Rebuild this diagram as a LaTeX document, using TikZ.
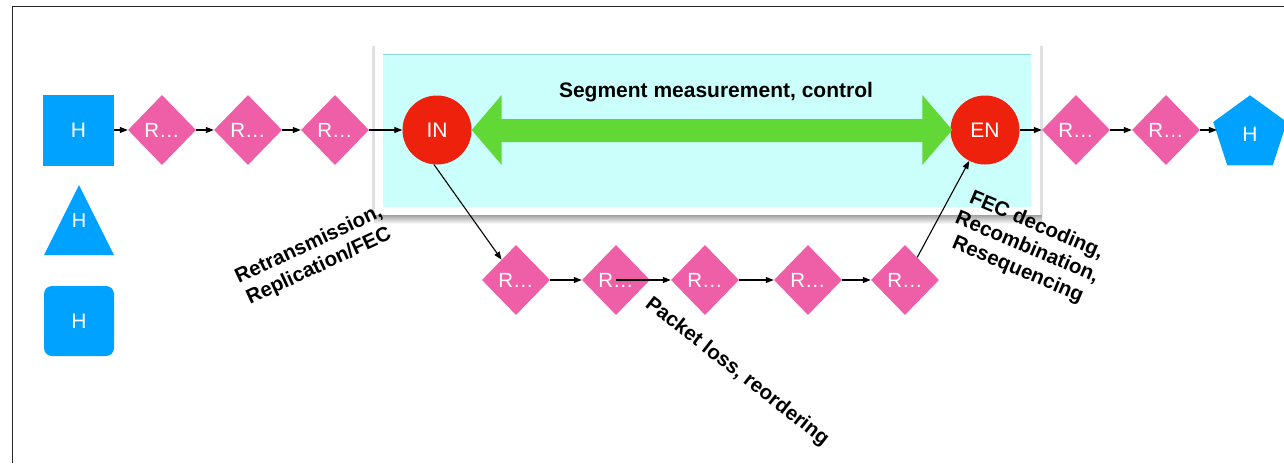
\documentclass[tikz,border=0pt]{standalone}
\usepackage{fontspec}
\setmainfont{Liberation Sans}
\usetikzlibrary{shapes.geometric,calc,arrows.meta}
\definecolor{hblue}{RGB}{0,162,255}
\definecolor{rpink}{RGB}{239,95,167}
\definecolor{nred}{RGB}{238,34,12}
\definecolor{agreen}{RGB}{97,216,54}
\definecolor{segcyan}{RGB}{203,255,252}
\begin{document}
\begin{tikzpicture}[x=1pt,y=-1pt,
  router/.style={diamond, fill=rpink, inner sep=0pt, minimum width=68pt, minimum height=70pt, text=white, font=\fontsize{20.5}{24}\selectfont},
  hostsq/.style={rectangle, fill=hblue, inner sep=0pt, minimum size=71pt, text=white, font=\fontsize{21}{24}\selectfont},
  edgenode/.style={circle, fill=nred, inner sep=0pt, minimum size=69pt, text=white, font=\fontsize{21}{24}\selectfont},
  conn/.style={-{Triangle[length=8pt,width=6pt]}, line width=1.1pt},
  lbl/.style={font=\bfseries\fontsize{20.5}{24}\selectfont, align=center, inner sep=0pt}
]
\useasboundingbox (0,0) rectangle (1284,463);
\fill[white] (0,0) rectangle (1284,463);
\draw[line width=1.5pt, black!85] (12.5,463) -- (12.5,6.5) -- (1284,6.5);
% segment box with shadow
\shade[top color=black!45, bottom color=white] (374,213) rectangle (1042,224);
\fill[black!12] (372,46) rectangle (1043,215);
\fill[white] (375,45) rectangle (1040,215);
\fill[segcyan] (383,54) rectangle (1031,207);
\draw[segcyan!70!teal, line width=0.6pt] (383,54.3) -- (1031,54.3);
% hosts
\node[hostsq] (h1) at (78.5,130) {H};
\fill[hblue] (79,185) -- (114,255) -- (44,255) -- cycle;
\node[text=white, font=\fontsize{20}{24}\selectfont, inner sep=0pt] (h2) at (79,221) {H};
\node[hostsq, rounded corners=8pt, minimum size=70pt] (h3) at (79,321) {H};
\node[regular polygon, regular polygon sides=5, fill=hblue, minimum size=77.4pt, inner sep=0pt, text=white, font=\fontsize{21}{24}\selectfont] (h4) at (1250,134) {H};
% top routers
\node[router] (r1) at (162,130) {R…};
\node[router] (r2) at (248,130) {R…};
\node[router] (r3) at (335,130) {R…};
\node[router] (r4) at (1076,130) {R…};
\node[router] (r5) at (1166,130) {R…};
% edge nodes
\node[edgenode] (in) at (437,130) {IN};
\node[edgenode] (en) at (985,130) {EN};
% bottom routers
\node[router] (b1) at (516,280) {R…};
\node[router] (b2) at (616,280) {R…};
\node[router] (b3) at (705,280) {R…};
\node[router] (b4) at (808,280) {R…};
\node[router] (b5) at (905,280) {R…};
% green double arrow
\fill[agreen] (in.east) -- ++(30,-35) -- ++(0,24) -- ($(en.west)+(-28,-11)$) -- ++(0,-24) -- ($(en.west)+(2,0)$) -- ++(-30,35) -- ++(0,-23) -- ($(in.east)+(30,12)$) -- ++(0,23) -- cycle;
\node[lbl, font=\bfseries\fontsize{21}{24}\selectfont] (seg) at (716,92) {Segment measurement, control};
% connectors
\draw[conn] (h1) -- (r1);
\draw[conn] (r1) -- (r2);
\draw[conn] (r2) -- (r3);
\draw[conn] (r3) -- (in);
\draw[conn] (en) -- (r4);
\draw[conn] (r4) -- (r5);
\draw[conn] (r5.east) -- (r5.east -| h4.west);
\draw[conn] (in.265) -- (b1);
\draw[conn] (b1) -- (b2);
\draw[conn] (b2.center) -- (b3);
\draw[conn] (b3) -- (b4);
\draw[conn] (b4) -- (b5);
\draw[conn] (b5) -- (en.243);
% labels
\node[lbl, rotate=25] (l1) at (314,256) {Retransmission,\\Replication/FEC};
\node[lbl, rotate=-38] (l2) at (737,372) {Packet loss, reordering};
\node[lbl, rotate=-23] (l3) at (1027,248) {FEC decoding,\\Recombination,\\Resequencing};
\end{tikzpicture}
\end{document}
